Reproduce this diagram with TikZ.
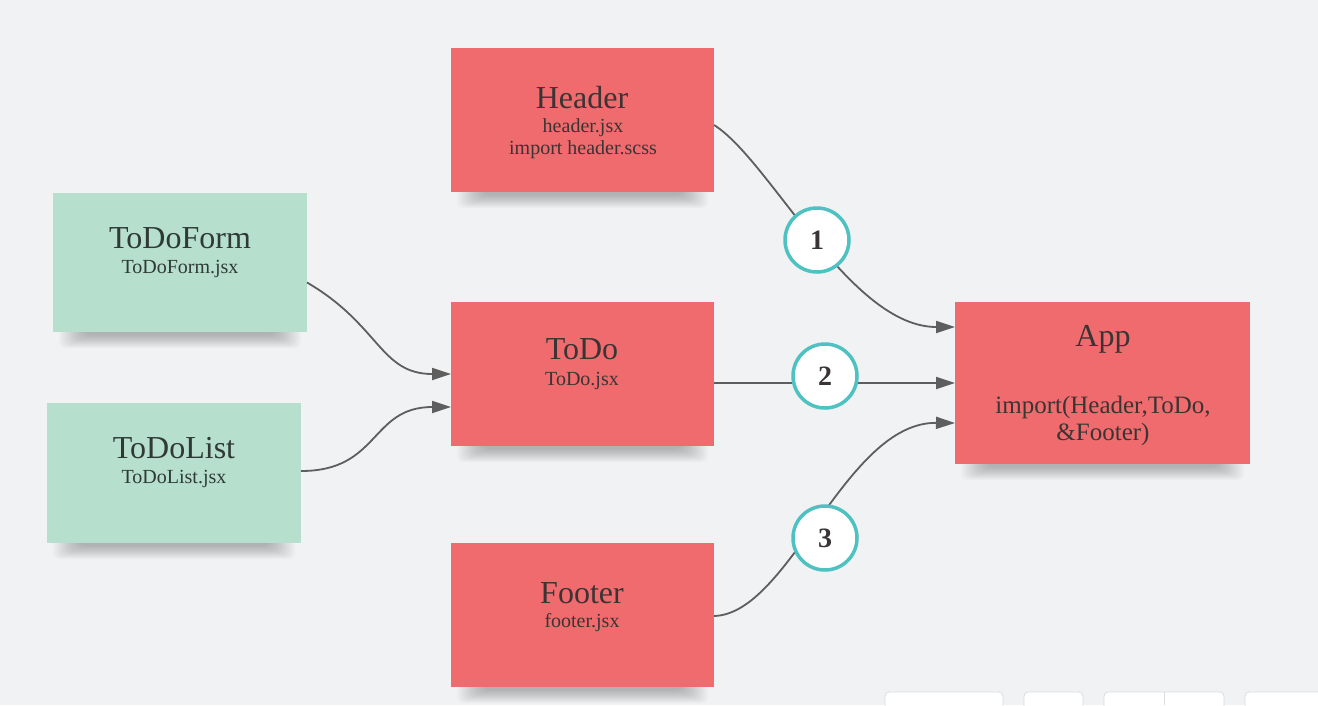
\documentclass[tikz,border=0pt]{standalone}
\usepackage{fontspec}
\setmainfont{Liberation Serif}
\usetikzlibrary{arrows.meta}
\definecolor{bg}{HTML}{F1F2F4}
\definecolor{redbox}{HTML}{F06B6D}
\definecolor{greenbox}{HTML}{B6DFCD}
\definecolor{ink}{HTML}{3A3434}
\definecolor{inkg}{HTML}{2F3A35}
\definecolor{tealc}{HTML}{4EC1C1}
\definecolor{wire}{HTML}{5E5E5E}
\definecolor{btnline}{HTML}{DADCDF}
\begin{document}
\begin{tikzpicture}[x=1pt,y=-1pt,
  card/.style={anchor=north west, inner sep=0pt, outer sep=0pt},
  redcard/.style={card, fill=redbox},
  greencard/.style={card, fill=greenbox},
  shadowband/.style={fill=black, opacity=0.018},
  ttl/.style={font=\fontsize{32}{34}\selectfont, text=ink},
  sub/.style={font=\fontsize{20}{22}\selectfont, text=ink},
  subapp/.style={font=\fontsize{25}{27}\selectfont, text=ink},
  num/.style={circle, draw=tealc, line width=3.5pt, fill=white, minimum size=64pt, inner sep=0pt,
    font=\fontsize{28}{29}\selectfont\bfseries, text=ink},
  wireline/.style={draw=wire, line width=1.8pt},
  arr/.style={wireline, -{Triangle[length=19pt,width=12pt]}},
  btn/.style={draw=btnline, fill=white, line width=0.8pt, rounded corners=4pt}]
\clip (0,0) rectangle (1318,705);
\fill[bg] (0,0) rectangle (1318,705);

% cards
\node[redcard, minimum width=263pt, minimum height=144pt] (header) at (451,48) {};
\node[greencard, minimum width=254pt, minimum height=139pt] (todoform) at (53,193) {};
\node[greencard, minimum width=254pt, minimum height=140pt] (todolist) at (47,403) {};
\node[redcard, minimum width=263pt, minimum height=144pt] (todo) at (451,302) {};
\node[redcard, minimum width=263pt, minimum height=144pt] (footer) at (451,543) {};
\node[redcard, minimum width=295pt, minimum height=162pt] (app) at (955,302) {};

% soft shadows under the cards
\foreach \n in {header,todoform,todolist,todo,footer,app}{
  \foreach \i in {1,...,14}{
    \fill[shadowband, rounded corners=6pt] ([xshift={(4+2*\i)*1pt}, yshift=4pt]\n.south west) rectangle ([xshift={(-4-2*\i)*1pt}, yshift={(-17+1*\i)*1pt}]\n.south east);
  }
}
% redraw the cards over the shadow tops
\fill[redbox] (header.north west) rectangle (header.south east);
\fill[greenbox] (todoform.north west) rectangle (todoform.south east);
\fill[greenbox] (todolist.north west) rectangle (todolist.south east);
\fill[redbox] (todo.north west) rectangle (todo.south east);
\fill[redbox] (footer.north west) rectangle (footer.south east);
\fill[redbox] (app.north west) rectangle (app.south east);

% texts
\node[ttl] (headerT) at (582,98) {Header};
\node[sub] (headerS1) at (583,128) {header.jsx};
\node[sub] (headerS2) at (583,150) {import header.scss};
\node[ttl, text=inkg] (todoformT) at (180,238) {ToDoForm};
\node[sub, text=inkg] (todoformS) at (180,269) {ToDoForm.jsx};
\node[ttl, text=inkg] (todolistT) at (174,448) {ToDoList};
\node[sub, text=inkg] (todolistS) at (174,479) {ToDoList.jsx};
\node[ttl] (todoT) at (582,349) {ToDo};
\node[sub] (todoS) at (582,381) {ToDo.jsx};
\node[ttl] (footerT) at (582,593) {Footer};
\node[sub] (footerS) at (582,623) {footer.jsx};
\node[ttl] (appT) at (1103,339) {App};
\node[subapp] (appS1) at (1103,407) {import(Header,ToDo,};
\node[subapp] (appS2) at (1103,434) {\&Footer)};

% anchor coordinates
\coordinate (appIn1) at ([yshift=56pt]app.west);
\coordinate (appIn3) at ([yshift=-40pt]app.west);
\coordinate (todoIn1) at (todo.west);
\coordinate (todoIn2) at ([yshift=-33pt]todo.west);
\coordinate (headerOut) at ([yshift=-5pt]header.east);
\coordinate (todoOut) at ([yshift=-9pt]todo.east);
\coordinate (formOut) at ([yshift=-20pt]todoform.east);
\coordinate (listOut) at ([yshift=2pt]todolist.east);
\coordinate (footerOut) at ([yshift=-1pt]footer.east);

% connectors
\draw[arr] (headerOut) .. controls (770,160) and (850,327) .. (appIn1);
\draw[arr] (todoOut) -- (todoOut -| app.west);
\draw[arr] (footerOut) .. controls (790,614) and (845,422) .. (appIn3);
\draw[arr] (formOut) .. controls (380,325) and (380,374) .. (todoIn1);
\draw[arr] (listOut) .. controls (380,471) and (370,407) .. (todoIn2);

% numbered circles
\node[num] (c1) at (817,240) {1};
\node[num] (c2) at (825,376) {2};
\node[num] (c3) at (825,538) {3};

% UI buttons at the bottom edge
\draw[btn] (885,692) rectangle (1003,720);
\draw[btn] (1024,692) rectangle (1083,720);
\draw[btn] (1104,692) rectangle (1224,720);
\draw[draw=btnline, line width=0.8pt] (1164,692) -- (1164,705);
\draw[btn] (1245,692) rectangle (1340,720);
\end{tikzpicture}
\end{document}
